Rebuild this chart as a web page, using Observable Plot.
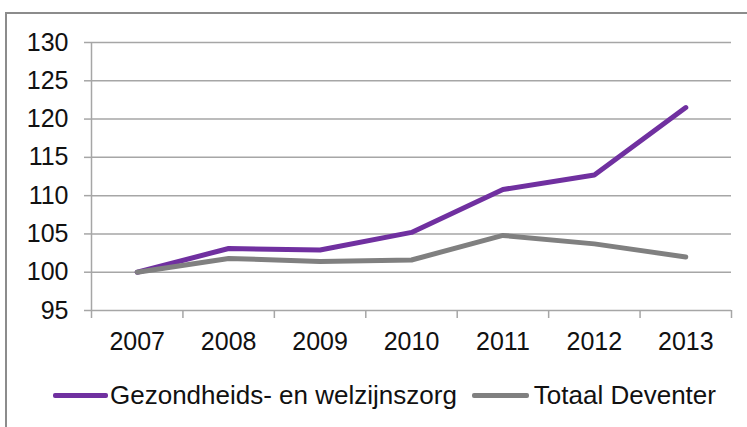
<!DOCTYPE html>
<html>
<head>
<meta charset="utf-8">
<script src="https://cdn.jsdelivr.net/npm/d3@7"></script>
<script src="https://cdn.jsdelivr.net/npm/@observablehq/plot@0.6"></script>
<style>
  html, body { margin: 0; padding: 0; background: #fff; overflow: hidden; }
  body { width: 747px; height: 427px; position: relative; font-family: "Liberation Sans", Arial, sans-serif; }
  #frame { position: absolute; left: 5px; top: 12px; width: 800px; height: 500px; border: 2px solid #8c8c8c; box-sizing: border-box; }
  #chart { position: absolute; left: 0; top: 0; }
  #legend { position: absolute; left: 53px; top: 380px; height: 30px; display: flex; align-items: center; font-size: 26px; color: #111; white-space: nowrap; }
  .sw { display: inline-block; height: 5px; border-radius: 2px; }
</style>
</head>
<body>
<div id="frame"></div>
<div id="chart"></div>
<div id="legend"></div>
<script>
const years = [2007, 2008, 2009, 2010, 2011, 2012, 2013];
const zorg = [100, 103.1, 102.9, 105.2, 110.8, 112.7, 121.5];
const totaal = [100, 101.8, 101.4, 101.6, 104.8, 103.7, 102.0];
const seriesNames = ["Gezondheids- en welzijnszorg", "Totaal Deventer"];
const seriesColors = ["#7030a0", "#808080"];
const yTicks = [95, 100, 105, 110, 115, 120, 125, 130];

const data = [];
years.forEach((y, i) => {
  data.push({year: y, value: zorg[i], series: seriesNames[0]});
  data.push({year: y, value: totaal[i], series: seriesNames[1]});
});
const bounds = years.map(y => y - 0.5).concat([years[years.length - 1] + 0.5]);
const xDomain = [bounds[0], bounds[bounds.length - 1]];

const grid = "#a6a6a6";
const chart = Plot.plot({
  width: 747,
  height: 370,
  marginLeft: 91,
  marginRight: 16,
  marginTop: 42,
  marginBottom: 60,
  style: {fontFamily: "'Liberation Sans', Arial, sans-serif", fontSize: "25px", color: "#111", background: "transparent", overflow: "visible"},
  x: {type: "linear", domain: xDomain, axis: null},
  y: {type: "linear", domain: [95, 130], axis: null},
  color: {domain: seriesNames, range: seriesColors},
  marks: [
    Plot.ruleY(yTicks, {x1: xDomain[0], x2: xDomain[1], stroke: grid, strokeWidth: 1.5}),
    Plot.axisY({ticks: yTicks, tickSize: 7, tickPadding: 16, stroke: grid, strokeWidth: 1.5, strokeOpacity: 1, fontSize: 25, fill: "#111", label: null}),
    Plot.ruleX([xDomain[0]], {y1: 95, y2: 130, stroke: grid, strokeWidth: 1.5}),
    Plot.axisX({ticks: bounds, tickSize: 8, tickFormat: () => "", stroke: grid, strokeWidth: 1.5, strokeOpacity: 1, label: null}),
    Plot.axisX({ticks: years, tickSize: 0, tickPadding: 22, tickFormat: d => String(d), fontSize: 25, fill: "#111", label: null}),
    Plot.line(data, {x: "year", y: "value", z: "series", stroke: "series", strokeWidth: 5, strokeLinejoin: "round", strokeLinecap: "round"})
  ]
});
document.getElementById("chart").appendChild(chart);

const legend = document.getElementById("legend");
seriesNames.forEach((n, i) => {
  const sw = document.createElement("span");
  sw.className = "sw";
  sw.style.background = seriesColors[i];
  sw.style.width = i === 0 ? "55px" : "57px";
  sw.style.marginRight = i === 0 ? "2px" : "5px";
  if (i > 0) sw.style.marginLeft = "15px";
  legend.appendChild(sw);
  const t = document.createElement("span");
  t.textContent = n;
  legend.appendChild(t);
});
</script>
</body>
</html>
